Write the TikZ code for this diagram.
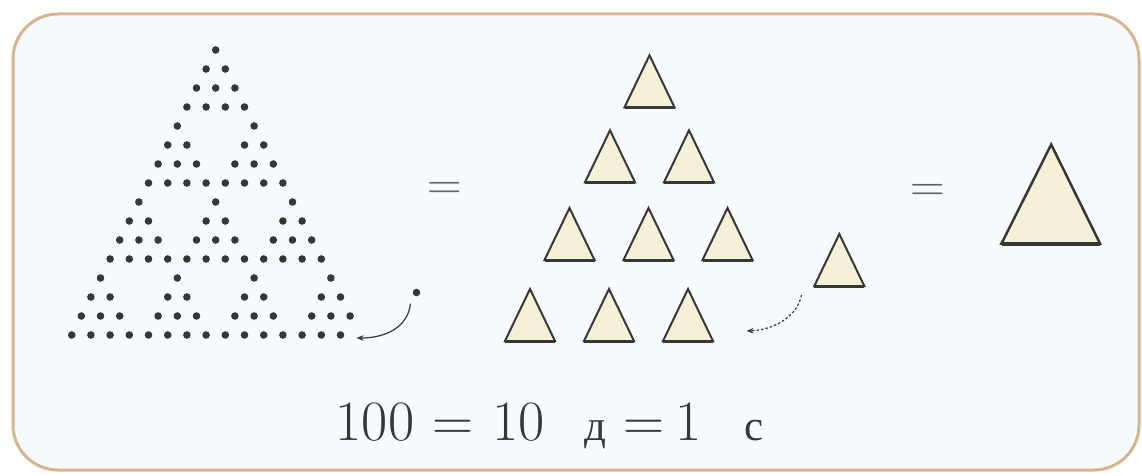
\documentclass[tikz,border=0pt]{standalone}
\usepackage{fontspec}
\newfontfamily\cyrfont{Liberation Serif}
\usetikzlibrary{arrows.meta}
\definecolor{framec}{RGB}{214,182,146}
\definecolor{bgc}{RGB}{248,251,253}
\definecolor{dotc}{RGB}{55,55,55}
\definecolor{trifill}{RGB}{244,241,214}
\definecolor{tristroke}{RGB}{55,55,55}
\definecolor{txtc}{RGB}{55,55,55}
\definecolor{eqc}{RGB}{100,100,100}
\begin{document}
\begin{tikzpicture}[x=1pt,y=-1pt,
  bead/.style={circle,fill=dotc,inner sep=0pt,minimum size=7.6pt},
  tri/.style={draw=tristroke,fill=trifill,line width=2pt,line join=miter},
  tribase/.style={draw=tristroke,line width=3pt},
  eqsign/.style={text=eqc,font=\fontsize{48}{50}\selectfont,inner sep=0pt,anchor=base},
  eqtext/.style={text=txtc,font=\fontsize{57}{60}\selectfont,inner sep=0pt,anchor=base},
  cyrtext/.style={text=txtc,font=\cyrfont\fontsize{43}{46}\selectfont,inner sep=0pt,anchor=base},
  curvearrow/.style={draw=dotc,line width=1.2pt,-{Stealth[length=7pt,width=5.5pt]}}]
\useasboundingbox (0,0) rectangle (1142,476);
% frame
\draw[draw=framec,line width=3pt,fill=bgc,rounded corners=45pt] (13,14) rectangle (1139,470);
% dot triangle: 10 groups of 10, last dot moved out
\foreach \g in {0,...,3}{
  \foreach \k in {0,...,\g}{
    \foreach \l in {0,...,3}{
      \foreach \p in {0,...,\l}{
        \pgfmathtruncatemacro\islast{and(\g==3,and(\k==3,and(\l==3,\p==3)))}
        \ifnum\islast=0
          \pgfmathsetmacro\xx{215.7+(4*\k+\p-(4*\g+\l)/2)*19.2}
          \pgfmathsetmacro\yy{50+(4*\g+\l)*19}
          \node[bead] (d\g\k\l\p) at (\xx,\yy) {};
        \fi
      }
    }
  }
}
\node[bead] (xdot) at (416.5,292.5) {};
\coordinate (a1s) at (410.5,303.5);
\coordinate (gap1) at (356.5,338);
\draw[curvearrow] (a1s) .. controls (408,327) and (386,338) .. (gap1);
% equals signs
\node[eqsign] (eq1) at (445,199) {=};
\node[eqsign] (eq2) at (927.5,201) {=};
% small triangles
\foreach \cx/\ay [count=\i] in {649.5/53.3, 610/128.3, 689/128.3, 569.5/206, 648.5/206, 727.5/206, 530/287, 609/287, 688/287, 839.3/232}{
  \draw[tri] (\cx-25,\ay+54) -- (\cx,\ay+2) -- (\cx+25,\ay+54) -- cycle;
  \draw[tribase] (\cx-25,\ay+54) -- (\cx+25,\ay+54);
  \coordinate (t\i) at (\cx,\ay+35);
}
\coordinate (a2s) at (801.5,295);
\coordinate (gap2) at (746.5,331);
\draw[curvearrow,dash pattern=on 2.5pt off 2pt] (a2s) .. controls (797,318) and (772,330) .. (gap2);
% big triangle
\draw[tri,line width=2.5pt] (1001.5,243.5) -- (1051.2,144.5) -- (1100,243.5) -- cycle;
\draw[tribase,line width=4pt] (1001.5,243.5) -- (1100,243.5);
% equation
\node[eqtext] (n100) at (375,440) {100};
\node[eqtext] (e1) at (453.3,440) {=};
\node[eqtext] (n10) at (518.3,440) {10};
\node[cyrtext] (dd) at (595.8,440) {д};
\node[eqtext] (e2) at (644.2,440) {=};
\node[eqtext] (n1) at (689,440) {1};
\node[cyrtext] (cc) at (754,440) {с};
\end{tikzpicture}
\end{document}
